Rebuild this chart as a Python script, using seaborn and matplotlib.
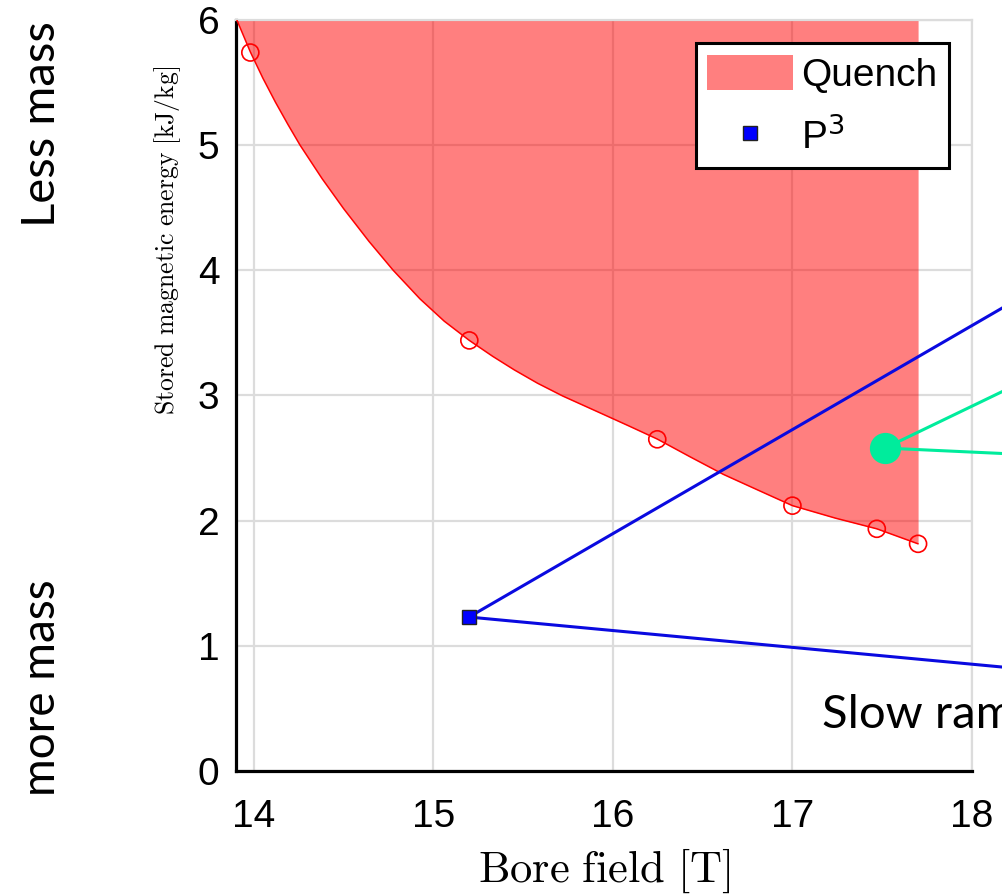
import matplotlib
matplotlib.use("Agg")
import matplotlib.pyplot as plt
import seaborn as sns
from matplotlib.patches import Patch
from matplotlib.lines import Line2D

# Quench boundary
quench_x = [13.905, 13.98, 14.05, 14.12, 14.19, 14.257, 14.38, 14.5, 14.64, 14.776,
            14.925, 15.06, 15.2, 15.33, 15.45, 15.58, 15.72, 15.93, 16.09, 16.247,
            16.43, 16.615, 16.81, 17.0, 17.24, 17.47, 17.70]
quench_y = [6.0, 5.745, 5.535, 5.343, 5.164, 5.0, 4.732, 4.492, 4.233, 4.0,
            3.772, 3.594, 3.44, 3.313, 3.205, 3.098, 2.996, 2.86, 2.756, 2.652,
            2.51, 2.37, 2.243, 2.12, 2.02, 1.935, 1.815]

# computed design points on the boundary
design_x = [13.98, 15.2, 16.247, 17.0, 17.47, 17.70]
design_y = [5.74, 3.44, 2.65, 2.12, 1.935, 1.815]

# P^3 point and its callout lines
p3_x, p3_y = 15.198, 1.23
p3_targets = [(18.3, 3.808), (18.3, 0.813)]

# green point and its callout lines
green_x, green_y = 17.516, 2.58
green_targets = [(18.3, 3.122), (18.3, 2.528)]

x_ticks = [14, 15, 16, 17, 18]
y_ticks = [0, 1, 2, 3, 4, 5, 6]

sns.set_style("whitegrid")
plt.rcParams["font.family"] = ["Liberation Sans", "DejaVu Sans"]
plt.rcParams["mathtext.fontset"] = "cm"
plt.rcParams["text.color"] = "black"
plt.rcParams["axes.labelcolor"] = "black"

grid_c = "#dcdcdc"
fig = plt.figure(figsize=(10.02, 8.96), dpi=100)
ax = fig.add_axes([0.2355, 0.1395, 0.7345, 0.8382])

# quench region
ax.fill_between(quench_x, quench_y, 6, color="red", alpha=0.5, linewidth=0, zorder=2)
sns.lineplot(x=quench_x, y=quench_y, sort=False, estimator=None, color="red",
             linewidth=1.1, ax=ax, zorder=3)
sns.scatterplot(x=design_x, y=design_y, marker="o", s=150, facecolor="none",
                edgecolor="red", linewidth=1.2, ax=ax, zorder=4)

# P^3 callouts
for tx, ty in p3_targets:
    ax.plot([p3_x, tx], [p3_y, ty], color="#0a0ae0", linewidth=2.2, clip_on=False, zorder=5)
ax.plot([p3_x], [p3_y], marker="s", markersize=10, color="#0000ff",
        markeredgecolor="#222222", markeredgewidth=1.0, zorder=6, clip_on=False)

# green callouts
for tx, ty in green_targets:
    ax.plot([green_x, tx], [green_y, ty], color="#00ec9c", linewidth=2.2, clip_on=False, zorder=5)
ax.plot([green_x], [green_y], marker="o", markersize=22.5, color="#00ec9c",
        markeredgewidth=0, zorder=6)

ax.set_xlim(13.9, 18.0)
ax.set_ylim(0, 6)
ax.set_xticks(x_ticks)
ax.set_yticks(y_ticks)
ax.grid(True, color=grid_c, linewidth=1.6)
ax.set_axisbelow(True)

for side in ["left", "bottom"]:
    ax.spines[side].set_color("black")
    ax.spines[side].set_linewidth(2.3)
for side in ["top", "right"]:
    ax.spines[side].set_color(grid_c)
    ax.spines[side].set_linewidth(1.6)

ax.tick_params(axis="both", direction="in", length=6.5, width=2.3, color="black",
               labelsize=28, labelcolor="black")
ax.tick_params(axis="x", pad=20, top=False)
ax.tick_params(axis="y", pad=12, right=False)

ax.set_xlabel(r"$\mathrm{Bore\ field\ [T]}$", fontsize=32)
ax.xaxis.set_label_coords(0.5, -0.1)
ax.set_ylabel(r"$\mathrm{Stored\ magnetic\ energy\ [kJ/kg]}$", fontsize=18.5)
ax.yaxis.set_label_coords(-0.072, 0.707)

handles = [Patch(facecolor="red", alpha=0.5, edgecolor="none", label="Quench"),
           Line2D([], [], marker="s", linestyle="none", markersize=10, color="#0000ff",
                  markeredgecolor="#222222", markeredgewidth=1.0, label="P$^3$")]
leg = ax.legend(handles=handles, loc="upper right", fontsize=28, frameon=True,
                fancybox=False, framealpha=1, edgecolor="black", handlelength=2.2,
                handleheight=1.0, handletextpad=0.2, borderpad=0.3, labelspacing=0.6,
                borderaxespad=0.6)
leg.get_frame().set_linewidth(2.2)
for t in leg.get_texts():
    t.set_math_fontfamily("dejavusans")

side_font = ["Lato", "DejaVu Sans"]
fig.text(42 / 1002, 1 - 124 / 896, "Less mass", rotation=90, ha="center", va="center",
         fontsize=34, family=side_font)
fig.text(42 / 1002, 1 - 688 / 896, "more mass", rotation=90, ha="center", va="center",
         fontsize=33, family=side_font)
fig.text(822 / 1002, 1 - 728 / 896, "Slow ramp", ha="left", va="baseline",
         fontsize=34, family=side_font)

fig.savefig("out.png", dpi=100)
